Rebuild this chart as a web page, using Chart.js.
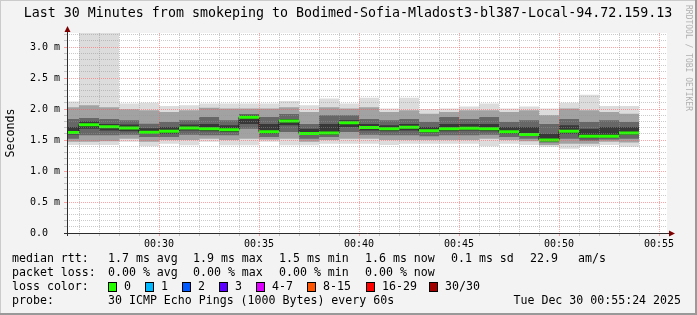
<!DOCTYPE html>
<html>
<head>
<meta charset="utf-8">
<script src="https://cdn.jsdelivr.net/npm/chart.js@4.4.1/dist/chart.umd.min.js"></script>
<style>
  html, body { margin: 0; padding: 0; background: #f3f3f3; }
  canvas { display: block; }
</style>
</head>
<body>
<canvas id="chart" width="697" height="315"></canvas>
<script>
'use strict';

// ************************* DATA (ms, minutes after 00:00) **********************************
const barStart = [25.4, 26, 27, 28, 29, 30, 31, 32, 33, 34, 35, 36, 37, 38, 39,
  40, 41, 42, 43, 44, 45, 46, 47, 48, 49, 50, 51, 52, 53];
const lastBarEnd = 54;

const medianMs = [1.62, 1.745, 1.713, 1.695, 1.624, 1.642, 1.692, 1.68, 1.664, 1.866,
  1.634, 1.808, 1.604, 1.614, 1.777, 1.70, 1.68, 1.705, 1.65, 1.68,
  1.69, 1.68, 1.634, 1.59, 1.50, 1.64, 1.56, 1.56, 1.612];

const smokeMax = [2.12, 3.3, 3.3, 2.09, 2.10, 2.05, 2.06, 2.09, 2.09, 2.09,
  2.09, 2.13, 2.06, 2.17, 2.09, 2.18, 2.01, 2.18, 2.0, 2.01,
  2.04, 2.09, 2.01, 2.04, 2.01, 2.10, 2.23, 2.05, 2.05];
const p90 = [2.03, 2.06, 2.03, 1.995, 1.98, 1.95, 1.98, 2.02, 2.01, 2.01,
  2.01, 2.03, 1.95, 2.03, 2.01, 2.03, 1.95, 1.98, 1.925, 1.95,
  1.98, 1.98, 1.95, 1.98, 1.90, 2.01, 1.98, 1.95, 1.925];
const q3 = [1.84, 1.855, 1.84, 1.817, 1.764, 1.79, 1.82, 1.87, 1.82, 1.92,
  1.87, 1.92, 1.76, 1.90, 1.90, 1.84, 1.82, 1.84, 1.79, 1.87,
  1.84, 1.87, 1.79, 1.82, 1.76, 1.84, 1.79, 1.82, 1.79];
const p60 = [1.71, 1.80, 1.76, 1.75, 1.69, 1.71, 1.75, 1.76, 1.74, 1.90,
  1.76, 1.84, 1.68, 1.76, 1.82, 1.76, 1.74, 1.76, 1.71, 1.76,
  1.76, 1.76, 1.71, 1.71, 1.60, 1.74, 1.68, 1.71, 1.71];
const p40 = [1.59, 1.68, 1.655, 1.64, 1.60, 1.60, 1.655, 1.64, 1.63, 1.76,
  1.60, 1.737, 1.585, 1.585, 1.71, 1.655, 1.64, 1.655, 1.62, 1.64,
  1.655, 1.64, 1.60, 1.575, 1.48, 1.60, 1.53, 1.54, 1.585];
const q1 = [1.52, 1.575, 1.575, 1.585, 1.55, 1.55, 1.585, 1.575, 1.575, 1.68,
  1.55, 1.63, 1.52, 1.55, 1.63, 1.585, 1.575, 1.575, 1.56, 1.575,
  1.575, 1.585, 1.55, 1.52, 1.46, 1.52, 1.49, 1.51, 1.52];
const p10 = [1.47, 1.47, 1.48, 1.52, 1.47, 1.50, 1.50, 1.52, 1.50, 1.52,
  1.51, 1.52, 1.47, 1.50, 1.52, 1.52, 1.50, 1.50, 1.50, 1.50,
  1.50, 1.52, 1.50, 1.48, 1.42, 1.44, 1.44, 1.47, 1.46];
const smokeMin = [1.42, 1.42, 1.42, 1.47, 1.40, 1.44, 1.415, 1.47, 1.415, 1.415,
  1.47, 1.415, 1.415, 1.44, 1.44, 1.44, 1.42, 1.44, 1.44, 1.44,
  1.44, 1.40, 1.44, 1.42, 1.39, 1.36, 1.40, 1.42, 1.39];

// axis ticks
const xRange = [25.4, 55.4];
const xLabelMinutes = [30, 35, 40, 45, 50, 55];
const xTickLabels = ['00:30', '00:35', '00:40', '00:45', '00:50', '00:55'];
const yMax = 3.226;
const yMajorTicks = [0, 0.5, 1.0, 1.5, 2.0, 2.5, 3.0];
const yTickLabels = ['0.0  ', '0.5 m', '1.0 m', '1.5 m', '2.0 m', '2.5 m', '3.0 m'];

// legend
const lossColors = ['#26ff00', '#00b8ff', '#0059ff', '#5e00ff', '#dd00ff', '#ff5500', '#ff0000', '#a10000'];
const lossLabels = ['0', '1', '2', '3', '4-7', '8-15', '16-29', '30/30'];

// ************************ HELPERS ********************************
const FONT = '"DejaVu Sans Mono", "Liberation Mono", monospace';
const MINOR_GRID = 'rgba(150, 150, 150, 0.5)';
const MAJOR_GRID = 'rgba(255, 90, 90, 0.55)';

const toSteps = (values) => {
  const pts = barStart.map((t, i) => ({x: t, y: values[i]}));
  pts.push({x: lastBarEnd, y: values[values.length - 1]});
  return pts;
};

const medianSegments = () => {
  const pts = [];
  for (let i = 0; i < barStart.length; i++) {
    const end = i + 1 < barStart.length ? barStart[i + 1] : lastBarEnd;
    pts.push({x: barStart[i], y: medianMs[i]}, {x: end, y: medianMs[i]}, {x: end, y: null});
  }
  return pts;
};

const isMajor = (v, step) => Math.abs(v / step - Math.round(v / step)) < 1e-6;

// inner layers first so outer ones are painted underneath
const smokeLayers = [
  {lo: p40, hi: p60, color: '#383838'},
  {lo: q1, hi: q3, color: '#676767'},
  {lo: p10, hi: p90, color: '#a2a2a2'},
  {lo: smokeMin, hi: smokeMax, color: '#dcdcdc'}
];

const datasets = [
  {
    data: medianSegments(),
    borderColor: '#26ff00',
    borderWidth: 3,
    borderCapStyle: 'butt',
    pointRadius: 0,
    spanGaps: false,
    fill: false
  },
  {
    data: toSteps(medianMs),
    stepped: 'before',
    borderColor: '#1a1a1a',
    borderWidth: 1,
    pointRadius: 0,
    fill: false
  }
];
for (let layer of smokeLayers) {
  datasets.push({
    data: toSteps(layer.lo),
    stepped: 'before',
    borderColor: 'rgba(0,0,0,0)',
    borderWidth: 0,
    pointRadius: 0,
    fill: false
  });
  datasets.push({
    data: toSteps(layer.hi),
    stepped: 'before',
    borderColor: 'rgba(0,0,0,0)',
    borderWidth: 0,
    pointRadius: 0,
    backgroundColor: layer.color,
    fill: '-1'
  });
}

// **************** DECORATION PLUGIN *************************
const rrdLook = {
  id: 'rrdLook',
  beforeDraw(chart) {
    const {ctx, chartArea: a} = chart;
    ctx.save();
    ctx.fillStyle = '#f3f3f3';
    ctx.fillRect(0, 0, chart.width, chart.height);
    ctx.fillStyle = '#ffffff';
    ctx.fillRect(a.left, a.top, a.right - a.left, a.bottom - a.top);
    ctx.restore();
  },
  afterDraw(chart) {
    const {ctx, chartArea: a} = chart;
    ctx.save();

    // axes with arrows
    ctx.strokeStyle = '#2c2c2c';
    ctx.lineWidth = 1;
    ctx.beginPath();
    ctx.moveTo(a.left - 3, a.bottom + 0.5);
    ctx.lineTo(a.right + 4, a.bottom + 0.5);
    ctx.moveTo(a.left + 0.5, a.bottom + 3);
    ctx.lineTo(a.left + 0.5, a.top - 3);
    ctx.stroke();
    ctx.fillStyle = '#7f0000';
    ctx.beginPath();
    ctx.moveTo(a.right + 2, a.bottom - 2.5);
    ctx.lineTo(a.right + 8, a.bottom + 0.5);
    ctx.lineTo(a.right + 2, a.bottom + 3.5);
    ctx.closePath();
    ctx.fill();
    ctx.beginPath();
    ctx.moveTo(a.left - 2.5, a.top - 1);
    ctx.lineTo(a.left + 0.5, a.top - 7);
    ctx.lineTo(a.left + 3.5, a.top - 1);
    ctx.closePath();
    ctx.fill();

    // title
    ctx.fillStyle = '#000';
    ctx.textBaseline = 'middle';
    ctx.textAlign = 'center';
    ctx.font = '13.3px ' + FONT;
    ctx.fillText('Last 30 Minutes from smokeping to Bodimed-Sofia-Mladost3-bl387-Local-94.72.159.13', 348, 14);

    // y axis title
    ctx.save();
    ctx.translate(11, (a.top + a.bottom) / 2);
    ctx.rotate(-Math.PI / 2);
    ctx.font = '11.6px ' + FONT;
    ctx.fillText('Seconds', 0, 0);
    ctx.restore();

    // watermark
    ctx.save();
    ctx.translate(688, 5);
    ctx.rotate(Math.PI / 2);
    ctx.textAlign = 'left';
    ctx.fillStyle = '#b0b0b0';
    ctx.font = '8px ' + FONT;
    ctx.fillText('RRDTOOL / TOBI OETIKER', 0, 0);
    ctx.restore();

    // legend block
    ctx.textAlign = 'left';
    ctx.font = '11.6px ' + FONT;
    const rows = [
      [259, [[12, 'median rtt:'], [108, '1.7 ms avg'], [193, '1.9 ms max'], [279, '1.5 ms min'],
        [365, '1.6 ms now'], [451, '0.1 ms sd'], [530, '22.9'], [578, 'am/s']]],
      [273, [[12, 'packet loss:'], [108, '0.00 % avg'], [193, '0.00 % max'], [279, '0.00 % min'],
        [365, '0.00 % now']]],
      [287, [[12, 'loss color:']]],
      [301, [[12, 'probe:'], [108, '30 ICMP Echo Pings (1000 Bytes) every 60s']]]
    ];
    for (let [y, items] of rows) {
      for (let [x, text] of items) {
        ctx.fillText(text, x, y);
      }
    }
    const boxX = [108, 145, 182, 219, 256, 307, 366, 429];
    for (let i = 0; i < lossColors.length; i++) {
      ctx.fillStyle = lossColors[i];
      ctx.fillRect(boxX[i], 282, 9, 10);
      ctx.strokeStyle = '#000';
      ctx.strokeRect(boxX[i] + 0.5, 282.5, 8, 9);
      ctx.fillStyle = '#000';
      ctx.fillText(lossLabels[i], boxX[i] + 16, 287);
    }
    ctx.textAlign = 'right';
    ctx.fillText('Tue Dec 30 00:55:24 2025', 681, 301);

    // frame
    ctx.fillStyle = '#cbcbcb';
    ctx.fillRect(0, 0, chart.width, 1);
    ctx.fillRect(0, 0, 1, chart.height);
    ctx.fillStyle = '#999999';
    ctx.fillRect(0, chart.height - 2, chart.width, 2);
    ctx.fillRect(chart.width - 2, 0, 2, chart.height);
    ctx.restore();
  }
};

// **************** CHART *************************
new Chart(document.getElementById('chart'), {
  type: 'line',
  data: {datasets: datasets},
  options: {
    responsive: false,
    devicePixelRatio: 1,
    animation: false,
    events: [],
    layout: {padding: {left: 0, top: 33, right: 30, bottom: 0}},
    plugins: {legend: {display: false}, tooltip: {enabled: false}, title: {display: false}},
    scales: {
      x: {
        type: 'linear',
        min: xRange[0],
        max: xRange[1],
        afterBuildTicks: (axis) => {
          const ticks = [];
          for (let m = Math.ceil(xRange[0]); m <= xRange[1]; m++) ticks.push({value: m});
          axis.ticks = ticks;
        },
        afterFit: (axis) => { axis.height = 82; },
        grid: {
          z: 1,
          tickLength: 3,
          color: (c) => (c.tick && isMajor(c.tick.value, 5) ? MAJOR_GRID : MINOR_GRID)
        },
        border: {display: false, dash: [1, 1]},
        ticks: {
          autoSkip: false,
          maxRotation: 0,
          padding: 2,
          color: '#000',
          font: {family: FONT, size: 10},
          callback: (v) => {
            const i = xLabelMinutes.indexOf(v);
            return i >= 0 ? xTickLabels[i] : '';
          }
        }
      },
      y: {
        min: 0,
        max: yMax,
        afterBuildTicks: (axis) => {
          const ticks = [];
          for (let i = 0; i * 0.1 <= yMax; i++) ticks.push({value: Math.round(i) / 10});
          axis.ticks = ticks;
        },
        afterFit: (axis) => { axis.width = 67; },
        grid: {
          z: 1,
          tickLength: 3,
          color: (c) => (c.tick && isMajor(c.tick.value, 0.5) ? MAJOR_GRID : MINOR_GRID)
        },
        border: {display: false, dash: [1, 1]},
        ticks: {
          autoSkip: false,
          padding: 4,
          color: '#000',
          font: {family: FONT, size: 10},
          callback: (v) => {
            const i = yMajorTicks.findIndex(t => Math.abs(t - v) < 1e-6);
            return i >= 0 ? yTickLabels[i] : '';
          }
        }
      }
    }
  },
  plugins: [rrdLook]
});
</script>
</body>
</html>
